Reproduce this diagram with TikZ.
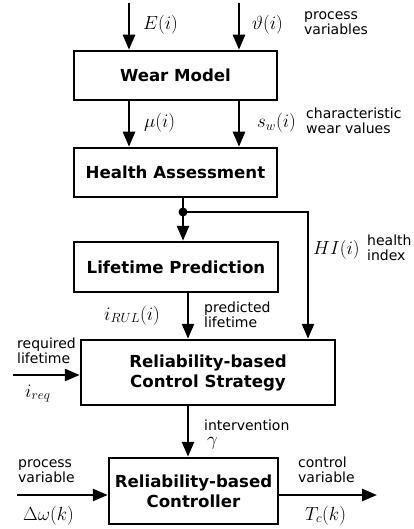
\RequirePackage{fix-cm}
\documentclass[tikz,border=0pt]{standalone}
\usepackage{fontspec}
\setmainfont{DejaVu Sans}
\usetikzlibrary{arrows.meta}
\begin{document}
\begin{tikzpicture}[x=1pt,y=-1pt,
  box/.style={draw, line width=2.5pt, inner sep=0pt, font=\fontsize{16.6}{20}\selectfont\bfseries, align=center},
  arr/.style={line width=2.5pt, -{Triangle[length=15pt,width=12pt]}},
  lbl/.style={anchor=base west, inner sep=0pt, font=\fontsize{14}{15}\selectfont, align=left},
  mth/.style={anchor=base west, inner sep=0pt, font=\fontsize{19}{19}\selectfont},
  dot/.style={circle, fill, inner sep=0pt, minimum size=9pt}]
\path[use as bounding box] (0,0) rectangle (414,529);
% boxes
\node[box, minimum width=203pt, minimum height=49pt] (wm) at (175.5,75.5) {Wear Model};
\node[box, minimum width=203pt, minimum height=49pt] (ha) at (175.5,172.5) {Health Assessment};
\node[box, minimum width=204pt, minimum height=50pt] (lp) at (176,267) {Lifetime Prediction};
\node[box, minimum width=254pt, minimum height=65pt] (cs) at (208,372.5) {Reliability-based\\Control Strategy};
\node[box, minimum width=169pt, minimum height=66pt] (rc) at (193.5,491) {Reliability-based\\Controller};
% connectors
\coordinate (eTop) at (129,3);
\coordinate (vTop) at (239,3);
\draw[arr] (eTop) -- (eTop |- wm.north);
\draw[arr] (vTop) -- (vTop |- wm.north);
\draw[arr] (eTop |- wm.south) -- (eTop |- ha.north);
\draw[arr] (vTop |- wm.south) -- (vTop |- ha.north);
\node[dot] (j) at (183,212) {};
\draw[arr] (j |- ha.south) -- (j |- lp.north);
\coordinate (hiX) at (308,212);
\draw[arr] (j.center) -- (hiX) -- (hiX |- cs.north);
\coordinate (rulX) at (188,0);
\draw[arr] (rulX |- lp.south) -- (rulX |- cs.north);
\draw[arr] (rulX |- cs.south) -- (rulX |- rc.north);
\coordinate (reqIn) at (13,375);
\draw[arr] (reqIn) -- (reqIn -| cs.west);
\coordinate (pvIn) at (17,495);
\draw[arr] (pvIn) -- (pvIn -| rc.west);
\coordinate (cvOut) at (377,495);
\draw[arr] (rc.east |- cvOut) -- (cvOut);
% labels (multi-line: base = last line)
\node[mth] (lE) at (143,30) {$E(i)$};
\node[mth] (lV) at (252,30) {$\vartheta(i)$};
\node[lbl] (lpv) at (304,35) {process\\variables};
\node[mth] (lmu) at (144,128) {$\mu(i)$};
\node[mth] (lsw) at (257,128) {$s_w(i)$};
\node[lbl] (lcw) at (306,134) {characteristic\\wear values};
\node[mth] (lHI) at (313,254) {$HI(i)$};
\node[lbl] (lhi) at (367,260) {health\\index};
\node[mth] (lrul) at (104,320) {$i_{RUL}(i)$};
\node[lbl] (lpl) at (204,327) {predicted\\lifetime};
\node[lbl] (lrl) at (17,363) {required\\lifetime};
\node[mth] (lreq) at (25,397) {$i_{req}$};
\node[lbl] (lint) at (204,430) {intervention};
\node[mth] (lgam) at (207,445) {$\gamma$};
\node[lbl] (lpv2) at (18,482) {process\\variable};
\node[mth] (ldw) at (23,520) {$\Delta\omega(k)$};
\node[lbl] (lcv) at (298,482) {control\\variable};
\node[mth] (ltc) at (305,520) {$T_c(k)$};
\end{tikzpicture}
\end{document}
